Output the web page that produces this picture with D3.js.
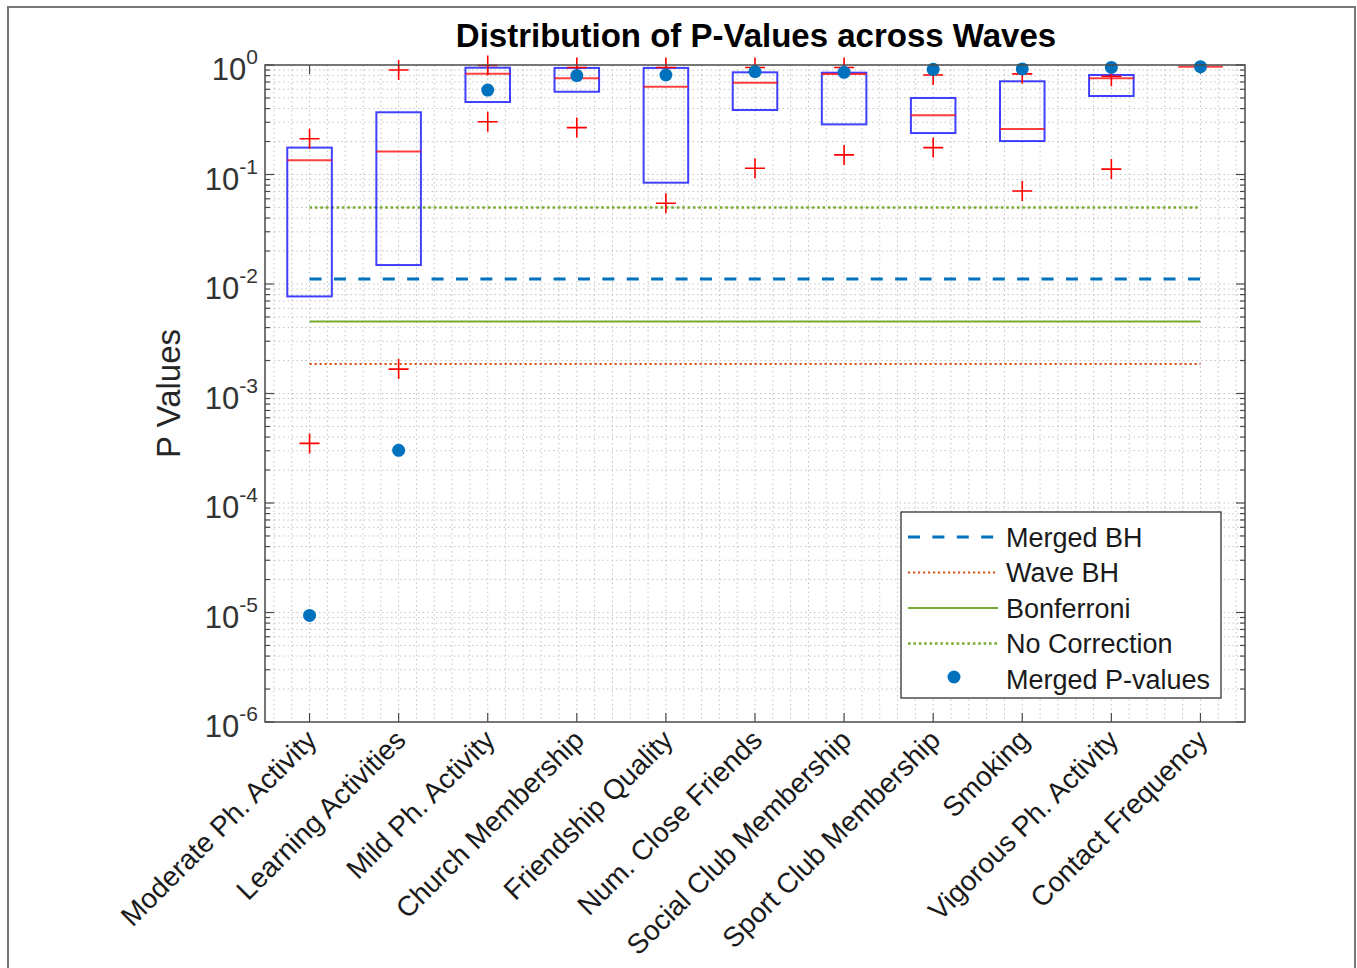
<!DOCTYPE html>
<html><head><meta charset="utf-8">
<script src="https://cdn.jsdelivr.net/npm/d3@7"></script>
<style>
html,body{margin:0;padding:0;background:#fff;}
svg{display:block;font-family:"Liberation Sans",Arial,Helvetica,sans-serif;}
</style></head>
<body>
<svg id="chart" width="1357" height="968"></svg>
<script>
// ---------- data ----------
const categories = ["Moderate Ph. Activity","Learning Activities","Mild Ph. Activity","Church Membership",
  "Friendship Quality","Num. Close Friends","Social Club Membership","Sport Club Membership",
  "Smoking","Vigorous Ph. Activity","Contact Frequency"];
const q1 =      [0.0077, 0.0149, 0.459, 0.57, 0.0842, 0.388, 0.287, 0.239, 0.202, 0.521, 0.965];
const q3 =      [0.176,  0.370,  0.945, 0.94, 0.94,   0.857, 0.851, 0.50,  0.71,  0.81,  0.965];
const medians = [0.135,  0.162,  0.833, 0.755,0.634,  0.69,  0.828, 0.347, 0.26,  0.755, 0.965];
const outliers = [[0.212,0.00035],[0.90,0.00167],[0.99,0.303],[0.95,0.268],[0.95,0.0546],
  [0.95,0.114],[0.95,0.151],[0.81,0.176],[0.83,0.0707],[0.79,0.112],[]];
const mergedP = [0.0000094, 0.000303, 0.59, 0.80, 0.81, 0.87, 0.857, 0.913, 0.92, 0.95, 0.965];
const thresholds = [
  {name:"Merged BH", value:0.0111},
  {name:"Wave BH", value:0.00186},
  {name:"Bonferroni", value:0.00455},
  {name:"No Correction", value:0.05}
];
const yTickExponents = [0,-1,-2,-3,-4,-5,-6];
const titleText = "Distribution of P-Values across Waves";
const yLabelText = "P Values";

// ---------- layout ----------
const svg = d3.select("#chart");
const L=265, R=1245, T=65, B=722;
const x = d3.scaleLinear().domain([0.5, categories.length+0.5]).range([L,R]);
const y = d3.scaleLog().domain([1e-6,1]).range([B,T]);
const axisCol = "#4a4a4a";

// outer figure frame
svg.append("path").attr("d","M8,968 L8,7 L1355,7 L1355,968")
  .attr("fill","none").attr("stroke","#777").attr("stroke-width",2);

const g = svg.append("g");
// grid
const gridG = g.append("g").attr("stroke","#c4c4c4").attr("stroke-width",1).attr("stroke-dasharray","1.5,3");
const yGrid=[];
for(let e=-6;e<0;e++){ for(let m=1;m<10;m++){ const v=m*Math.pow(10,e); if(v>1e-6) yGrid.push(v);} }
gridG.selectAll("line.yg").data(yGrid).join("line")
  .attr("x1",L).attr("x2",R).attr("y1",d=>y(d)).attr("y2",d=>y(d));
const xGrid=d3.range(0.6,categories.length+0.5,0.2).map(v=>+v.toFixed(2));
gridG.selectAll("line.xg").data(xGrid).join("line")
  .attr("x1",d=>x(d)).attr("x2",d=>x(d)).attr("y1",T).attr("y2",B);

// ticks
const tk = g.append("g").attr("stroke",axisCol).attr("stroke-width",1.2);
const yMinor=[];
for(let e=-6;e<0;e++){ for(let m=2;m<10;m++) yMinor.push(m*Math.pow(10,e)); }
yMinor.forEach(v=>{
  tk.append("line").attr("x1",L).attr("x2",L+5).attr("y1",y(v)).attr("y2",y(v));
  tk.append("line").attr("x1",R).attr("x2",R-5).attr("y1",y(v)).attr("y2",y(v));
});
yTickExponents.forEach(e=>{
  const v=Math.pow(10,e);
  tk.append("line").attr("x1",L).attr("x2",L+9).attr("y1",y(v)).attr("y2",y(v));
  tk.append("line").attr("x1",R).attr("x2",R-9).attr("y1",y(v)).attr("y2",y(v));
});
categories.forEach((c,i)=>{
  tk.append("line").attr("x1",x(i+1)).attr("x2",x(i+1)).attr("y1",B).attr("y2",B-9);
  tk.append("line").attr("x1",x(i+1)).attr("x2",x(i+1)).attr("y1",T).attr("y2",T+9);
});

// threshold lines
const x0=x(1), x1=x(categories.length);
const tStyle = {
  "Merged BH":{c:"#0072BD",w:3,d:"12,12.4"},
  "Wave BH":{c:"#D95319",w:2.2,d:"2.2,2.8"},
  "Bonferroni":{c:"#77AC30",w:2,d:null},
  "No Correction":{c:"#77AC30",w:2.6,d:"2.6,2.8"}
};
thresholds.forEach(t=>{
  const s=tStyle[t.name];
  const ln=g.append("line").attr("x1",x0).attr("x2",x1).attr("y1",y(t.value)).attr("y2",y(t.value))
    .attr("stroke",s.c).attr("stroke-width",s.w);
  if(s.d) ln.attr("stroke-dasharray",s.d);
});

// boxes
const bw = (x(1.25)-x(0.75));
categories.forEach((c,i)=>{
  const cx=x(i+1);
  g.append("rect").attr("x",cx-bw/2).attr("y",y(q3[i])).attr("width",bw)
    .attr("height",Math.max(0,y(q1[i])-y(q3[i]))).attr("fill","none")
    .attr("stroke","#0000ff").attr("stroke-opacity",0.75).attr("stroke-width",2);
  g.append("line").attr("x1",cx-bw/2).attr("x2",cx+bw/2).attr("y1",y(medians[i])).attr("y2",y(medians[i]))
    .attr("stroke","#ff0000").attr("stroke-opacity",0.75).attr("stroke-width",2);
  outliers[i].forEach(v=>{
    const oy=y(v);
    g.append("path").attr("d",`M${cx-10},${oy}H${cx+10}M${cx},${oy-10}V${oy+10}`)
      .attr("stroke","#ff0000").attr("stroke-width",1.6).attr("fill","none");
  });
});
// merged p-values
g.selectAll("circle.mp").data(mergedP).join("circle")
  .attr("cx",(d,i)=>x(i+1)).attr("cy",d=>y(d)).attr("r",6.5).attr("fill","#0072BD");

// axes box
g.append("rect").attr("x",L).attr("y",T).attr("width",R-L).attr("height",B-T)
  .attr("fill","none").attr("stroke",axisCol).attr("stroke-width",1.5);

// y tick labels
yTickExponents.forEach(e=>{
  const t=svg.append("text").attr("x",258).attr("y",y(Math.pow(10,e))+15)
    .attr("text-anchor","end").attr("fill","#333").attr("font-size",31);
  t.append("tspan").text("10");
  t.append("tspan").attr("dy",-16).attr("font-size",21).text(String(e));
});
// x tick labels
categories.forEach((c,i)=>{
  svg.append("text").attr("transform",`translate(${x(i+1)-6},${B+5}) rotate(-45)`)
    .attr("text-anchor","end").attr("dy","0.75em").attr("font-size",28).attr("fill","#1a1a1a").text(c);
});
// title
svg.append("text").attr("x",(L+R)/2+1).attr("y",47).attr("text-anchor","middle")
  .attr("font-size",33).attr("font-weight","bold").attr("fill","#000").text(titleText);
// y label
svg.append("text").attr("transform",`translate(180,${(T+B)/2}) rotate(-90)`).attr("text-anchor","middle")
  .attr("font-size",33).attr("fill","#262626").text(yLabelText);

// legend
const lg=svg.append("g");
lg.append("rect").attr("x",901).attr("y",512).attr("width",320).attr("height",186)
  .attr("fill","#fff").attr("stroke","#333").attr("stroke-width",1.3);
const legItems = thresholds.map(t=>t.name).concat(["Merged P-values"]);
legItems.forEach((name,i)=>{
  const ly=537+i*35.5;
  if(tStyle[name]){
    const s=tStyle[name];
    const ln=lg.append("line").attr("x1",908).attr("x2",998).attr("y1",ly).attr("y2",ly)
      .attr("stroke",s.c).attr("stroke-width",s.w);
    if(s.d) ln.attr("stroke-dasharray",s.d);
  } else {
    lg.append("circle").attr("cx",954).attr("cy",ly-2).attr("r",6.5).attr("fill","#0072BD");
  }
  lg.append("text").attr("x",1006).attr("y",ly).attr("dy","0.36em").attr("font-size",27)
    .attr("fill","#1a1a1a").text(name);
});
</script>
</body></html>
